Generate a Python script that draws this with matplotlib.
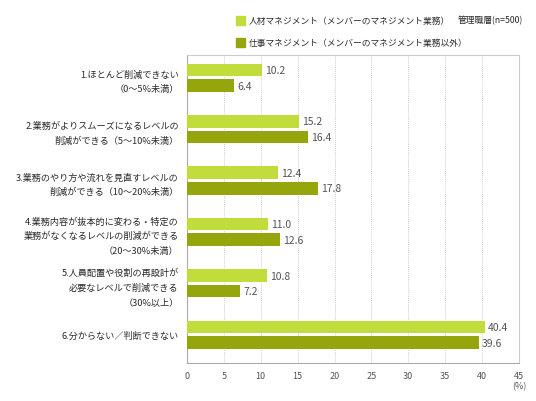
import matplotlib
matplotlib.use("Agg")
import matplotlib.pyplot as plt
import numpy as np
from matplotlib.patches import Rectangle

plt.rcParams['font.family'] = ['Noto Sans CJK JP', 'DejaVu Sans']

categories = [
    "1.ほとんど削減できない\n（0〜5%未満）",
    "2.業務がよりスムーズになるレベルの\n削減ができる（5〜10%未満）",
    "3.業務のやり方や流れを見直すレベルの\n削減ができる（10〜20%未満）",
    "4.業務内容が抜本的に変わる・特定の\n業務がなくなるレベルの削減ができる\n（20〜30%未満）",
    "5.人員配置や役割の再設計が\n必要なレベルで削減できる\n（30%以上）",
    "6.分からない／判断できない",
]
people_mgmt = [10.2, 15.2, 12.4, 11.0, 10.8, 40.4]
work_mgmt = [6.4, 16.4, 17.8, 12.6, 7.2, 39.6]
series_names = ["人材マネジメント（メンバーのマネジメント業務）",
                "仕事マネジメント（メンバーのマネジメント業務以外）"]
xticks = list(range(0, 50, 5))

light = "#c0dd3c"
dark = "#95a60d"
gray_text = "#555555"

fig = plt.figure(figsize=(5.36, 4.02), dpi=100)
ax = fig.add_axes([0.349, 0.0945, 0.619, 0.767])

y = np.arange(len(categories))
h = 0.245
off = 0.152
ax.barh(y - off, people_mgmt, height=h, color=light, zorder=3)
ax.barh(y + off, work_mgmt, height=h, color=dark, zorder=3)

for yi, v in zip(y, people_mgmt):
    ax.text(v + 0.4, yi - off, f"{v:.1f}", va="center", ha="left",
            fontsize=7.5, color=gray_text)
for yi, v in zip(y, work_mgmt):
    ax.text(v + 0.4, yi + off, f"{v:.1f}", va="center", ha="left",
            fontsize=7.5, color=gray_text)

ax.set_xlim(0, 45)
ax.set_ylim(len(categories) - 0.5 + 0.05, -0.5 + 0.05)
ax.set_xticks(xticks)
ax.set_xticklabels([str(t) for t in xticks], fontsize=6.5, color=gray_text)
ax.set_yticks(y)
ax.set_yticklabels(categories, fontsize=6.6, color="#2a2a2a", ha="right",
                   multialignment="right", linespacing=1.75)
ax.tick_params(axis="y", length=0, pad=6)
ax.tick_params(axis="x", length=0, pad=6)

for t in xticks[1:-1]:
    ax.axvline(t, color="#bbbbbb", lw=0.6, ls=(0, (1, 1.5)), zorder=1)

for s in ax.spines.values():
    s.set_color("#cccccc")
    s.set_linewidth(0.8)
ax.spines["left"].set_color("#aaaaaa")
ax.spines["bottom"].set_color("#aaaaaa")

ax.text(45, -0.06, "(%)", transform=ax.get_xaxis_transform(), ha="center",
        va="top", fontsize=6.5, color=gray_text)

# legend
fig.patches.append(Rectangle((236 / 536, 1 - 26 / 402), 9 / 536, 9 / 402,
                             transform=fig.transFigure, color=light))
fig.patches.append(Rectangle((236 / 536, 1 - 48 / 402), 9 / 536, 9 / 402,
                             transform=fig.transFigure, color=dark))
fig.text(249 / 536, 1 - 21 / 402, series_names[0], fontsize=6.3, va="center",
         color="#2a2a2a")
fig.text(249 / 536, 1 - 43 / 402, series_names[1], fontsize=6.3, va="center",
         color="#2a2a2a")
fig.text(523 / 536, 1 - 21 / 402, "管理職層(n=500)", fontsize=6.3, va="center",
         ha="right", color="#2a2a2a")

fig.savefig("out.png", dpi=100)
